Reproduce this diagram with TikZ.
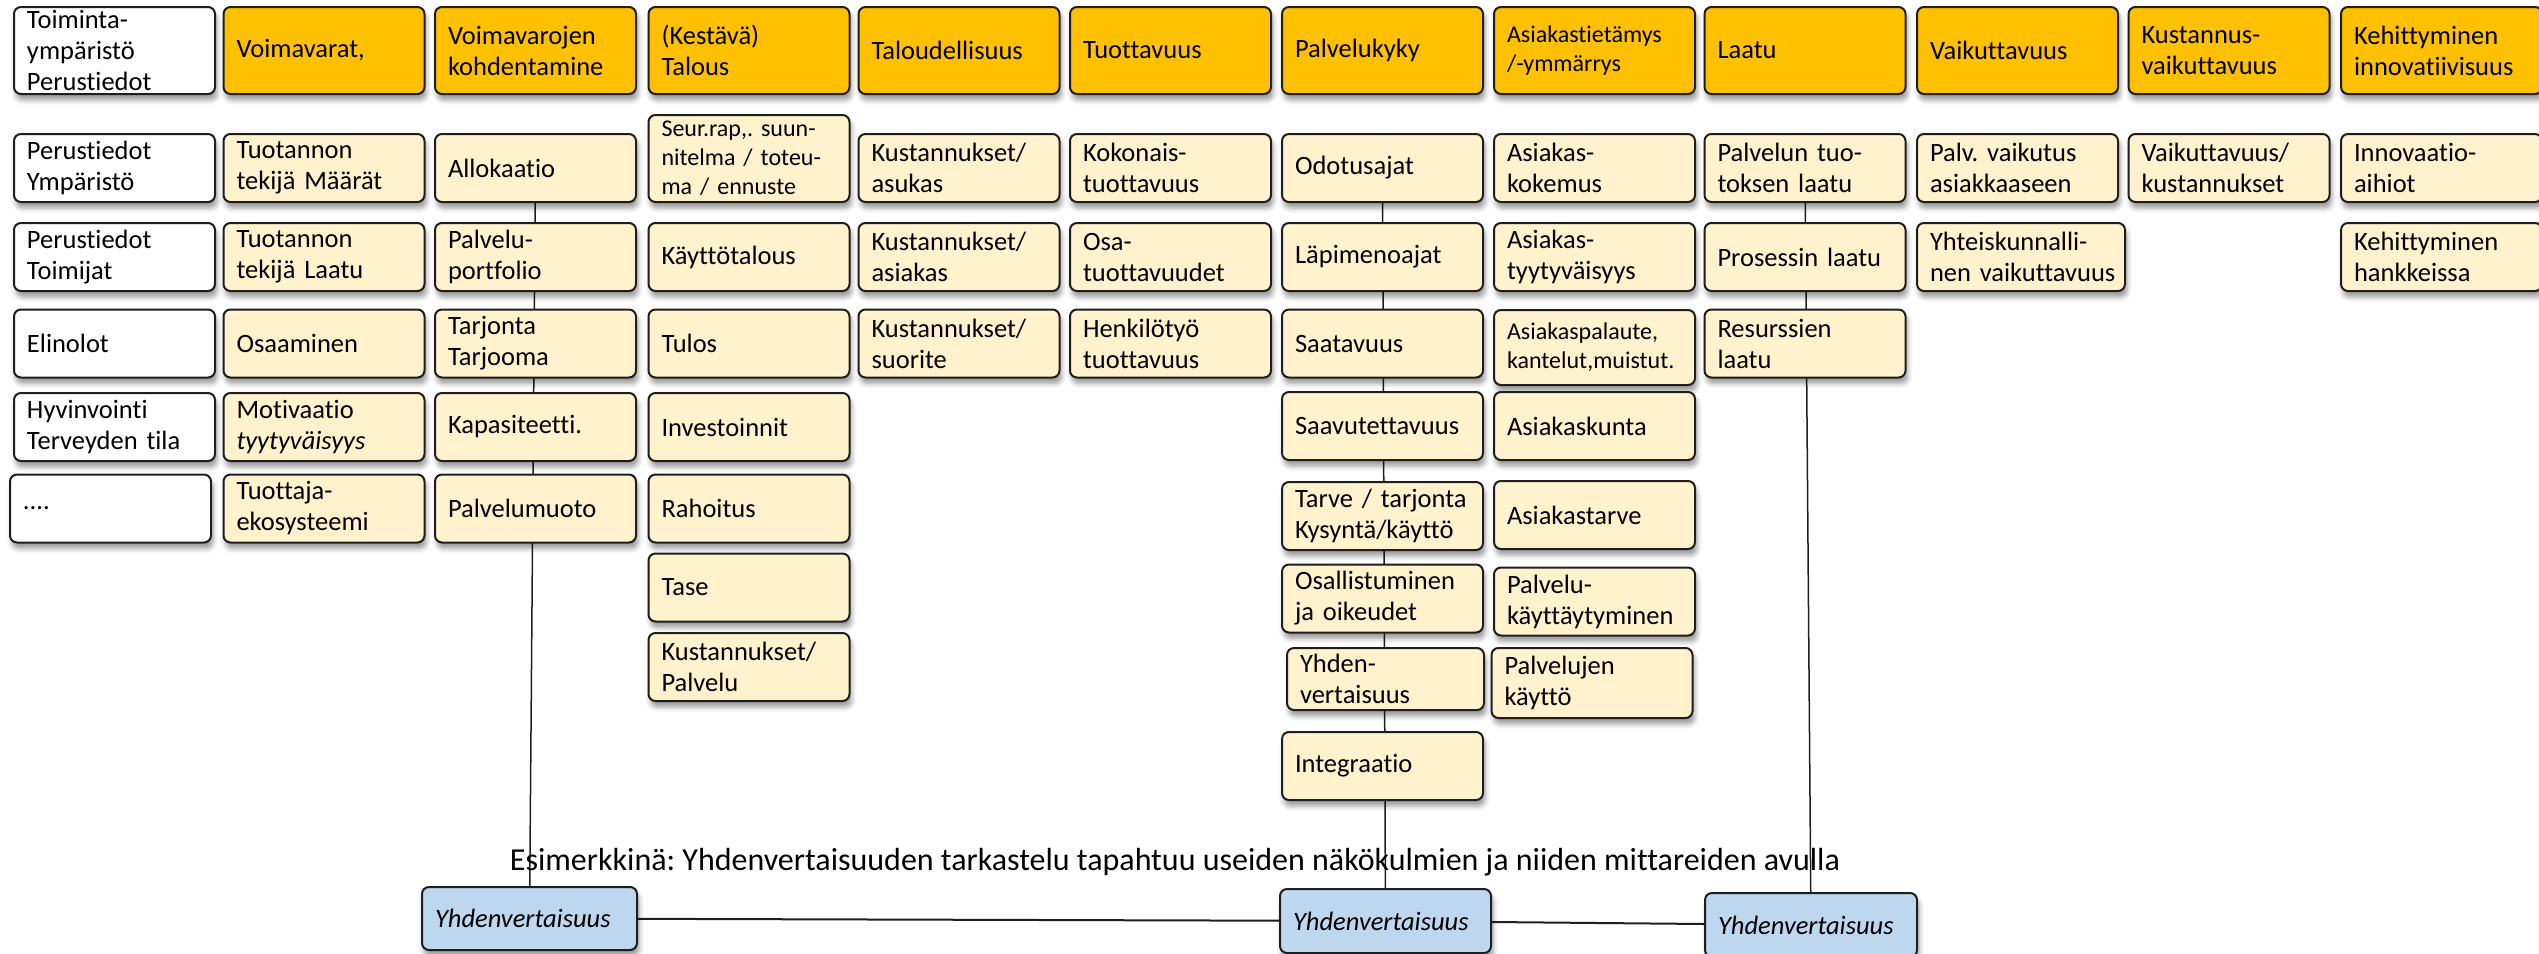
\documentclass[tikz,border=0pt]{standalone}
\usepackage{fontspec}
\setmainfont{Carlito}[Ligatures=NoCommon]
\usetikzlibrary{shadows.blur}
\pgfdeclarelayer{bg}
\pgfsetlayers{bg,main}
\definecolor{hdr}{HTML}{FFC000}
\definecolor{cream}{HTML}{FFF2CC}
\definecolor{blu}{HTML}{BDD7EE}
\definecolor{edge}{HTML}{1E1E1E}
\frenchspacing
\hyphenpenalty=10000
\exhyphenpenalty=10000
\tikzset{
  base/.style={draw=edge, line width=2pt, rounded corners=7pt,
    blur shadow={shadow xshift=2pt, shadow yshift=-6pt, shadow blur radius=5pt, shadow opacity=40},
    align=left, inner xsep=13pt, inner ysep=0pt, text width=175pt, minimum height=68pt,
    font=\fontsize{26.5}{31}\selectfont, text=black,
    execute at begin node={\frenchspacing\hyphenpenalty=10000\exhyphenpenalty=10000}},
  hdrbox/.style={base, fill=hdr, minimum height=87pt},
  wbox/.style={base, fill=white},
  cbox/.style={base, fill=cream},
  bbox/.style={base, fill=blu, font=\fontsize{26.5}{31}\selectfont\itshape},
  small/.style={font=\fontsize{24}{29}\selectfont},
  link/.style={draw=edge, line width=1.5pt},
  caption/.style={font=\fontsize{32}{38}\selectfont, anchor=base, inner sep=0pt}
}
\begin{document}
\begin{tikzpicture}[x=1pt,y=-1pt]
\useasboundingbox (0,0) rectangle (2539,953);
\clip (0,0) rectangle (2539,953);
% headers
\node[hdrbox, fill=white] (h0) at (114.5,50.5) {Toiminta-\\ympäristö\\Perustiedot};
\node[hdrbox] (h1) at (324,50.5) {Voimavarat,};
\node[hdrbox] (h2) at (535.5,50.5) {Voimavarojen\\kohdentamine};
\node[hdrbox] (h3) at (749,50.5) {(Kestävä)\\Talous};
\node[hdrbox] (h4) at (959,50.5) {Taloudellisuus};
\node[hdrbox] (h5) at (1170.5,50.5) {Tuottavuus};
\node[hdrbox] (h6) at (1382.5,50.5) {Palvelukyky};
\node[hdrbox, small] (h7) at (1594.5,50.5) {Asiakastietämys\\/-ymmärrys};
\node[hdrbox] (h8) at (1805,50.5) {Laatu};
\node[hdrbox] (h9) at (2017.5,50.5) {Vaikuttavuus};
\node[hdrbox] (h10) at (2229,50.5) {Kustannus-\\vaikuttavuus};
\node[hdrbox] (h11) at (2441.5,50.5) {Kehittyminen\\innovatiivisuus};
% column 0
\node[wbox] (a1) at (114.5,168) {Perustiedot\\Ympäristö};
\node[wbox] (a2) at (114.5,257) {Perustiedot\\Toimijat};
\node[wbox] (a3) at (114.5,343.5) {Elinolot};
\node[wbox] (a4) at (114.5,427) {Hyvinvointi\\Terveyden~tila};
\node[wbox] (a5) at (110.5,508.5) {....};
% column 1
\node[cbox] (b1) at (324,168) {Tuotannon\\tekijä~Määrät};
\node[cbox] (b2) at (324,257) {Tuotannon\\tekijä~Laatu};
\node[cbox] (b3) at (324,343.5) {Osaaminen};
\node[cbox] (b4) at (324,427) {Motivaatio\\\textit{tyytyväisyys}};
\node[cbox] (b5) at (324,508.5) {Tuottaja-\\ekosysteemi};
% column 2
\node[cbox] (c1) at (535.5,168) {Allokaatio};
\node[cbox] (c2) at (535.5,257) {Palvelu-\\portfolio};
\node[cbox] (c3) at (535.5,343.5) {Tarjonta\\Tarjooma};
\node[cbox] (c4) at (535.5,427) {Kapasiteetti.};
\node[cbox] (c5) at (535.5,508.5) {Palvelumuoto};
% column 3
\node[cbox, small, minimum height=87pt] (d1) at (749,158.5) {Seur.rap,.~suun-\\nitelma~/~toteu-\\ma~/~ennuste};
\node[cbox] (d2) at (749,257) {Käyttötalous};
\node[cbox] (d3) at (749,343.5) {Tulos};
\node[cbox] (d4) at (749,427) {Investoinnit};
\node[cbox] (d5) at (749,508.5) {Rahoitus};
\node[cbox] (d6) at (749,587.5) {Tase};
\node[cbox] (d7) at (749,667) {Kustannukset/\\Palvelu};
% column 4
\node[cbox] (e1) at (959,168) {Kustannukset/\\asukas};
\node[cbox] (e2) at (959,257) {Kustannukset/\\asiakas};
\node[cbox] (e3) at (959,343.5) {Kustannukset/\\suorite};
% column 5
\node[cbox] (f1) at (1170.5,168) {Kokonais-\\tuottavuus};
\node[cbox] (f2) at (1170.5,257) {Osa-\\tuottavuudet};
\node[cbox] (f3) at (1170.5,343.5) {Henkilötyö\\tuottavuus};
% column 6
\node[cbox] (g1) at (1382.5,168) {Odotusajat};
\node[cbox] (g2) at (1382.5,257) {Läpimenoajat};
\node[cbox] (g3) at (1382.5,343.5) {Saatavuus};
\node[cbox] (g4) at (1382.5,426) {Saavutettavuus};
\node[cbox] (g5) at (1382.5,516) {Tarve~/~tarjonta\\Kysyntä/käyttö};
\node[cbox] (g6) at (1382.5,598.5) {Osallistuminen\\ja~oikeudet};
\node[cbox, text width=171pt, minimum height=62pt] (g7) at (1385.5,679) {Yhden-\\vertaisuus};
\node[cbox] (g8) at (1382.5,766) {Integraatio};
% column 7
\node[cbox] (k1) at (1594.5,168) {Asiakas-\\kokemus};
\node[cbox] (k2) at (1594.5,257) {Asiakas-\\tyytyväisyys};
\node[cbox, small, minimum height=75pt] (k3) at (1594.5,347.5) {Asiakaspalaute,\\kantelut,muistut.};
\node[cbox] (k4) at (1594.5,426) {Asiakaskunta};
\node[cbox] (k5) at (1594.5,515) {Asiakastarve};
\node[cbox] (k6) at (1594.5,601.5) {Palvelu-\\käyttäytyminen};
\node[cbox, minimum height=70pt] (k7) at (1592,683) {Palvelujen\\käyttö};
% column 8
\node[cbox] (l1) at (1805,168) {Palvelun~tuo-\\toksen~laatu};
\node[cbox] (l2) at (1805,257) {Prosessin~laatu};
\node[cbox] (l3) at (1805,343.5) {Resurssien\\laatu};
% column 9
\node[cbox] (m1) at (2017.5,168) {Palv.~vaikutus\\asiakkaaseen};
\node[cbox, text width=182pt] (m2) at (2021,257) {Yhteiskunnalli-\\nen~vaikuttavuus};
% column 10
\node[cbox] (n1) at (2229,168) {Vaikuttavuus/\\kustannukset};
% column 11
\node[cbox] (p1) at (2441.5,168) {Innovaatio-\\aihiot};
\node[cbox] (p2) at (2441.5,257) {Kehittyminen\\hankkeissa};
% caption
\node[caption] (cap) at (1175,870) {Esimerkkinä: Yhdenvertaisuuden tarkastelu tapahtuu useiden näkökulmien ja niiden mittareiden avulla};
% bottom boxes
\node[bbox, text width=189pt, minimum height=63pt] (yl) at (529.5,918.5) {Yhdenvertaisuus};
\node[bbox, text width=185pt, minimum height=64pt] (ym) at (1385.5,921) {Yhdenvertaisuus};
\node[bbox, text width=186pt, minimum height=64pt] (yr) at (1811,925) {Yhdenvertaisuus};
% connectors
\begin{pgfonlayer}{bg}
\draw[link] (c1.center) -- (yl.center);
\draw[link] (g1.center) -- (ym.center);
\draw[link] (l1.center) -- (yr.center);
\draw[link, line width=2pt] (yl.center) -- (ym.center) -- (yr.center);
\end{pgfonlayer}
\end{tikzpicture}
\end{document}
